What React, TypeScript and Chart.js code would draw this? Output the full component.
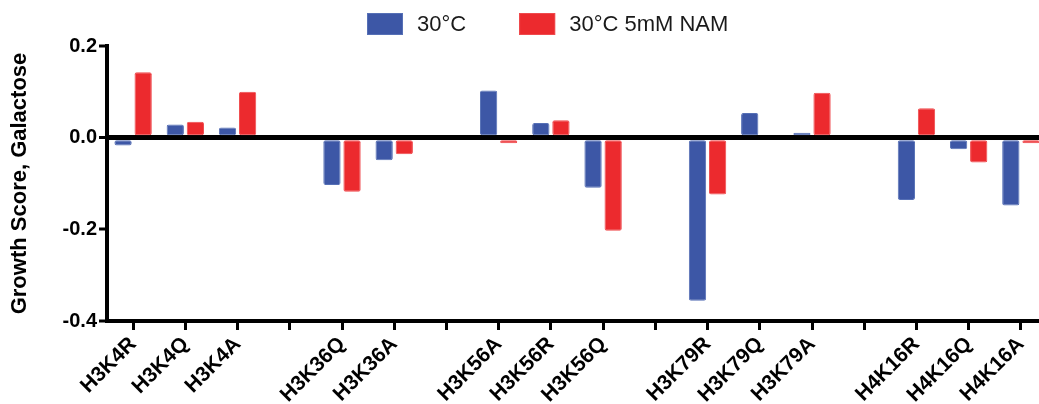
import React, { useEffect, useRef } from "react";
import { Chart, registerables } from "chart.js";

Chart.register(...registerables);

const categories = [
  "H3K4R", "H3K4Q", "H3K4A", "",
  "H3K36Q", "H3K36A", "",
  "H3K56A", "H3K56R", "H3K56Q", "",
  "H3K79R", "H3K79Q", "H3K79A", "",
  "H4K16R", "H4K16Q", "H4K16A",
];

const series30C = [
  -0.017, 0.029, 0.022, null,
  -0.103, -0.049, null,
  0.103, 0.032, -0.109, null,
  -0.356, 0.054, 0.011, null,
  -0.136, -0.025, -0.148,
];

const series30CNAM = [
  0.143, 0.035, 0.1, null,
  -0.118, -0.036, null,
  -0.012, 0.038, -0.203, null,
  -0.124, 0, 0.098, null,
  0.064, -0.054, -0.012,
];

const yTicks = [-0.4, -0.2, 0, 0.2];
const seriesLabels = ["30°C", "30°C 5mM NAM"];
const yTitle = "Growth Score, Galactose";

const FONT = "'Liberation Sans', Arial, Helvetica, sans-serif";

const legendPlugin = {
  id: "customLegend",
  afterDraw(chart: any) {
    const ctx = chart.ctx;
    ctx.save();
    ctx.font = `22px ${FONT}`;
    ctx.textBaseline = "middle";
    ctx.textAlign = "left";
    let x = 367;
    chart.data.datasets.forEach((ds: any) => {
      ctx.fillStyle = ds.backgroundColor;
      ctx.fillRect(x, 13, 36, 22);
      ctx.strokeStyle = ds.borderColor;
      ctx.lineWidth = 1;
      ctx.strokeRect(x + 0.5, 13.5, 35, 21);
      ctx.fillStyle = "#1a1a1a";
      ctx.fillText(ds.label, x + 50, 25);
      x += 50 + ctx.measureText(ds.label).width + 53;
    });
    ctx.restore();
  },
};

export default function App() {
  const ref = useRef<HTMLCanvasElement | null>(null);

  useEffect(() => {
    if (!ref.current) return;
    Chart.defaults.font.family = FONT;
    const chart = new Chart(ref.current, {
      type: "bar",
      data: {
        labels: categories,
        datasets: [
          {
            label: seriesLabels[0],
            data: series30C,
            backgroundColor: "#3D57A6",
            borderColor: "#5670B6",
            borderWidth: 1,
            borderRadius: 2,
            borderSkipped: false,
          },
          {
            label: seriesLabels[1],
            data: series30CNAM,
            backgroundColor: "#EC2A2E",
            borderColor: "#EF4A4D",
            borderWidth: 1,
            borderRadius: 2,
            borderSkipped: false,
          },
        ],
      },
      options: {
        responsive: false,
        animation: false,
        layout: { padding: { top: 46, left: 0, right: 0, bottom: 0 } },
        plugins: {
          legend: { display: false },
          tooltip: { enabled: false },
        },
        datasets: {
          bar: { categoryPercentage: 0.77, barPercentage: 0.86 },
        },
        scales: {
          x: {
            offset: true,
            grid: {
              offset: false,
              drawOnChartArea: false,
              drawTicks: true,
              tickLength: 9,
              tickColor: "#000",
              tickWidth: 3,
              color: "#000",
            },
            border: { display: true, color: "#000", width: 4 },
            ticks: {
              autoSkip: false,
              minRotation: 45,
              maxRotation: 45,
              padding: 2,
              color: "#000",
              font: { size: 21, weight: "bold", family: FONT },
            },
            afterFit: (scale: any) => {
              scale.height = 83;
            },
          },
          y: {
            z: 1,
            min: yTicks[0],
            max: yTicks[yTicks.length - 1],
            afterBuildTicks: (scale: any) => {
              scale.ticks = yTicks.map((v) => ({ value: v }));
            },
            grid: {
              drawOnChartArea: true,
              drawTicks: true,
              tickLength: 8,
              tickColor: "#000",
              tickWidth: 3,
              color: (c: any) => (Math.abs(c.tick?.value ?? 1) < 1e-9 ? "#000" : "rgba(0,0,0,0)"),
              lineWidth: (c: any) => (Math.abs(c.tick?.value ?? 1) < 1e-9 ? 5 : 0),
            },
            border: { display: true, color: "#000", width: 4 },
            ticks: {
              padding: 2,
              color: "#000",
              font: { size: 20, weight: "bold", family: FONT },
              callback: (v: any) => Number(v).toFixed(1),
            },
            title: {
              display: true,
              text: yTitle,
              color: "#000",
              font: { size: 22, weight: "bold", family: FONT },
              padding: { top: 7, bottom: 0 },
            },
            afterFit: (scale: any) => {
              scale.width = 107;
            },
          },
        },
      },
      plugins: [legendPlugin],
    } as any);
    return () => chart.destroy();
  }, []);

  return (
    <div
      style={{
        position: "absolute",
        left: 0,
        top: 0,
        width: 1039,
        height: 404,
        overflow: "hidden",
        background: "#fff",
      }}
    >
      <canvas ref={ref} width={1047} height={404} style={{ display: "block" }} />
    </div>
  );
}
